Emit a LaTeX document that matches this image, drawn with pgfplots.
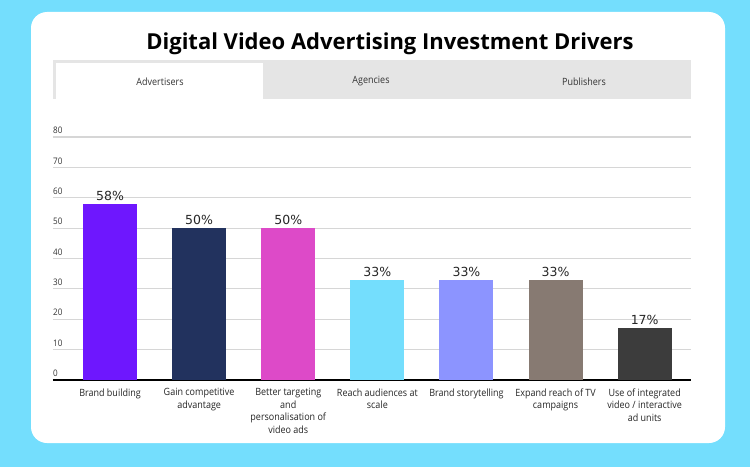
\documentclass[border=0pt]{standalone}
\usepackage{pgfplots}
\pgfplotsset{compat=1.18}
\usepackage{fontspec}
\setmainfont{Open Sans}
\newfontfamily\dejavu{DejaVu Sans}
\newfontfamily\labelfont[FakeStretch=0.9]{Open Sans}
\definecolor{bg}{HTML}{74DEFD}
\definecolor{tabgray}{HTML}{E5E5E5}
\definecolor{txt}{HTML}{333333}
\definecolor{gridc}{HTML}{D6D6D6}
\definecolor{c1}{HTML}{6E17FE}
\definecolor{c2}{HTML}{22325E}
\definecolor{c3}{HTML}{DD4AC8}
\definecolor{c4}{HTML}{74DEFD}
\definecolor{c5}{HTML}{8C94FF}
\definecolor{c6}{HTML}{877A72}
\definecolor{c7}{HTML}{3C3C3C}
\begin{document}
\begin{tikzpicture}[x=1pt,y=1pt]
\useasboundingbox (0,0) rectangle (750,467);
\fill[bg] (0,0) rectangle (750,467);
\fill[white, rounded corners=16pt] (31,24) rectangle (725,455);
\fill[tabgray] (53,368) rectangle (691,407);
\fill[white] (56,368) rectangle (263,404);
\node[font=\labelfont\fontsize{10}{12}\selectfont, text=txt] at (160,385.5) {Advertisers};
\node[font=\labelfont\fontsize{10}{12}\selectfont, text=txt] at (371,385.5) {Agencies};
\node[font=\labelfont\fontsize{10}{12}\selectfont, text=txt] at (584,385.5) {Publishers};
\node[font=\fontsize{22}{26}\selectfont\bfseries] at (390,423.5) {Digital Video Advertising Investment Drivers};
\begin{axis}[
  at={(53pt,87pt)}, anchor=south west,
  scale only axis, width=638pt, height=243pt,
  xmin=-0.64, xmax=6.52, ymin=0, ymax=80,
  ytick={0,10,...,80},
  xtick={0,...,6},
  xticklabels={Brand building, Gain competitive\\advantage, Better targeting\\and\\personalisation of\\video ads, Reach audiences at\\scale, Brand storytelling, Expand reach of TV\\campaigns, Use of integrated\\video / interactive\\ad units},
  major tick length=0pt,
  axis x line*=bottom, axis y line*=left,
  x axis line style={black, line width=2pt},
  y axis line style={draw=none},
  ymajorgrids, grid style={gridc, line width=1.2pt},
  /pgf/number format/assume math mode=true,
  yticklabel style={anchor=south west, inner sep=0pt, yshift=3pt, font=\labelfont\fontsize{9}{10}\selectfont, text=txt},
  xticklabel style={font=\labelfont\fontsize{10}{12.5}\selectfont, align=center, text=black!85, yshift=-5pt},
  nodes near coords={\pgfmathprintnumber{\pgfplotspointmeta}\%},
  nodes near coords style={font=\dejavu\fontsize{12.5}{14}\selectfont, text=black!85},
  every axis plot/.append style={ybar, bar width=54pt, bar shift=0pt, draw=none},
  clip=false,
]
\addplot[fill=c1] coordinates {(0,58)};
\addplot[fill=c2] coordinates {(1,50)};
\addplot[fill=c3] coordinates {(2,50)};
\addplot[fill=c4] coordinates {(3,33)};
\addplot[fill=c5] coordinates {(4,33)};
\addplot[fill=c6] coordinates {(5,33)};
\addplot[fill=c7] coordinates {(6,17)};
\end{axis}
\end{tikzpicture}
\end{document}
